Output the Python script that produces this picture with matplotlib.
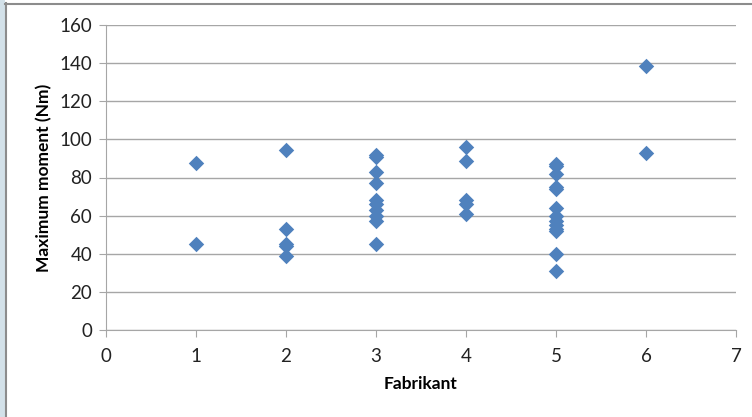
import matplotlib
matplotlib.use("Agg")
import matplotlib.pyplot as plt
from matplotlib.patches import Rectangle
from matplotlib.lines import Line2D

# data
fab_1 = [87.5, 45]
fab_2 = [94.5, 53, 45, 44, 39]
fab_3 = [92, 91, 83, 77, 68, 66, 63, 60, 57, 45]
fab_4 = [96, 88.5, 68, 66, 61]
fab_5 = [87, 86, 82, 75, 74, 64, 60, 57, 55, 53, 52, 40, 31]
fab_6 = [138.5, 93]

groups = [fab_1, fab_2, fab_3, fab_4, fab_5, fab_6]
x = []
y = []
for i, vals in enumerate(groups):
    x += [i + 1] * len(vals)
    y += vals

plt.rcParams['font.family'] = ['Lato', 'DejaVu Sans']

fig = plt.figure(figsize=(7.52, 4.17), dpi=100)
ax = fig.add_axes([106 / 752, 1 - 330 / 417, 630 / 752, 305 / 417])

# frame of the screenshot
fig.patches.append(Rectangle((0, 0), 5 / 752, 1, transform=fig.transFigure,
                             facecolor='#D3E1E9', edgecolor='none'))
fig.lines.append(Line2D([5.5 / 752, 5.5 / 752], [0, 1 - 3 / 417], transform=fig.transFigure,
                        color='#8C8C8C', lw=1.5))
fig.lines.append(Line2D([5 / 752, 1], [1 - 3.5 / 417, 1 - 3.5 / 417], transform=fig.transFigure,
                        color='#8C8C8C', lw=1.5))

ax.scatter(x, y, marker='D', s=62, color='#4F81BD', zorder=3, linewidths=0)

ax.set_xlim(0, 7)
ax.set_ylim(0, 160)
ax.set_xticks(range(0, 8))
ax.set_yticks(range(0, 161, 20))
ax.yaxis.grid(True, color='#A6A6A6', lw=1)
ax.set_axisbelow(True)

for s in ['top', 'right']:
    ax.spines[s].set_visible(False)
for s in ['left', 'bottom']:
    ax.spines[s].set_color('#A6A6A6')
ax.tick_params(axis='both', colors='#A6A6A6', length=5, labelsize=13.5, labelcolor='#222222')
ax.tick_params(axis='y', pad=5)
ax.tick_params(axis='x', pad=8)

ax.set_xlabel('Fabrikant', fontsize=12.5, fontweight='bold', labelpad=8)
ax.set_ylabel('Maximum moment (Nm)', fontsize=12.5, fontweight='bold', labelpad=5)

fig.savefig('out.png', dpi=100)
